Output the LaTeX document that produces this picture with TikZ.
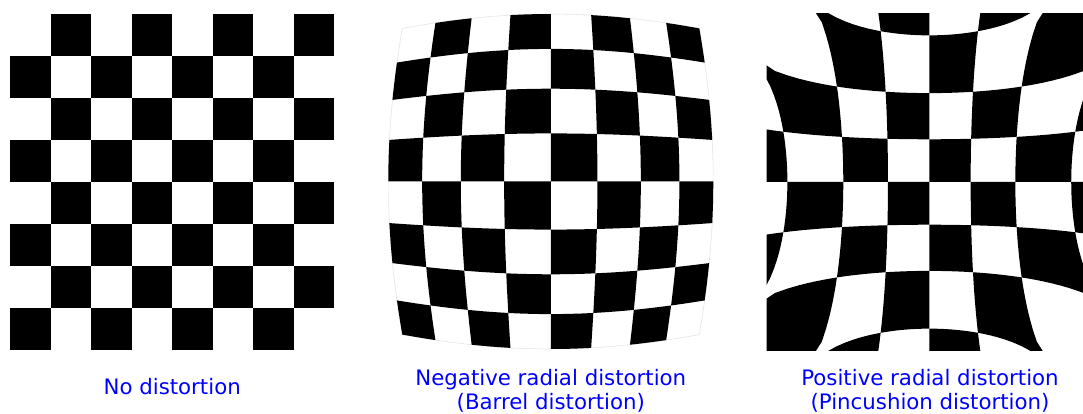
\documentclass[tikz,border=0pt]{standalone}
\usepackage{fontspec}
\setmainfont{DejaVu Sans}
% one Newton step for  s*r*(1+k r^2) = R
\newcommand\nstep{\pgfmathsetmacro\rr{\rr-(\ds*\rr*(1+\dk*\rr*\rr)-\RR)/(\ds*(1+3*\dk*\rr*\rr))}}
\newcommand\nsteps[1]{\ifnum#1>0 \nstep\expandafter\nsteps\expandafter{\the\numexpr#1-1\relax}\fi}
% map grid point (qx,qy) of the undistorted board to picture point (\X,\Y)
\newcommand\mapq[2]{%
  \pgfmathsetmacro\RR{sqrt((#1)*(#1)+(#2)*(#2))}%
  \ifdim\RR pt<0.0001pt
    \pgfmathsetmacro\fac{1/\ds}%
  \else
    \ifdim\RR pt>\dlim pt
      \pgfmathsetmacro\fac{4/\RR}%
    \else
      \pgfmathsetmacro\rr{\RR/\ds}%
      \nsteps{\nit}%
      \pgfmathsetmacro\fac{\rr/\RR}%
    \fi
  \fi
  \pgfmathsetmacro\X{\dcx+(#1)*\fac*\dhw}%
  \pgfmathsetmacro\Y{\dcy+(#2)*\fac*\dhh}%
}
\newcommand\addpt[2]{\mapq{#1}{#2}\xdef\cpath{\cpath(\X,\Y)--}}
% draw the black cells of a distorted 8x8 board with the current parameters
\newcommand\distboard{%
  \foreach \i in {0,...,7}{\foreach \j in {0,...,7}{%
    \pgfmathtruncatemacro\parity{mod(\i+\j,2)}%
    \ifnum\parity=1
      \gdef\cpath{}%
      \pgfmathsetmacro\xa{-1+0.25*\i}\pgfmathsetmacro\xb{\xa+0.25}%
      \pgfmathsetmacro\ya{-1+0.25*\j}\pgfmathsetmacro\yb{\ya+0.25}%
      \foreach \t in {0,...,7}{\pgfmathsetmacro\qq{\xa+0.03125*\t}\addpt{\qq}{\ya}}%
      \foreach \t in {0,...,7}{\pgfmathsetmacro\qq{\ya+0.03125*\t}\addpt{\xb}{\qq}}%
      \foreach \t in {0,...,7}{\pgfmathsetmacro\qq{\xb-0.03125*\t}\addpt{\qq}{\yb}}%
      \foreach \t in {0,...,7}{\pgfmathsetmacro\qq{\yb-0.03125*\t}\addpt{\xa}{\qq}}%
      \edef\tmp{\noexpand\fill[cellfill] \cpath cycle;}\tmp
    \fi}}}
\newcommand\distoutline{%
  \gdef\cpath{}%
  \foreach \t in {0,...,15}{\pgfmathsetmacro\qq{-1+0.125*\t}\addpt{\qq}{-1}}%
  \foreach \t in {0,...,15}{\pgfmathsetmacro\qq{-1+0.125*\t}\addpt{1}{\qq}}%
  \foreach \t in {0,...,15}{\pgfmathsetmacro\qq{1-0.125*\t}\addpt{\qq}{1}}%
  \foreach \t in {0,...,15}{\pgfmathsetmacro\qq{1-0.125*\t}\addpt{-1}{\qq}}%
  \edef\tmp{\noexpand\draw[faintline] \cpath cycle;}\tmp}
\tikzset{
  cellfill/.style={fill=black},
  faintline/.style={draw=black!10, line width=0.6pt},
  lab/.style={font=\fontsize{21.3}{23.6}\selectfont, text=blue, align=center, inner sep=0pt},
}
\begin{document}
\begin{tikzpicture}[x=1pt,y=-1pt]
\useasboundingbox (0,0) rectangle (1083,414);
\fill[white] (0,0) rectangle (1083,414);
% ---- board 1: no distortion
\foreach \i in {0,...,7}{\foreach \j in {0,...,7}{%
  \pgfmathtruncatemacro\parity{mod(\i+\j,2)}%
  \ifnum\parity=1
    \fill[cellfill] (10+40.54*\i,14+42*\j) rectangle ++(40.54,42);
  \fi}}
% ---- board 2: barrel
\begin{scope}
  \def\ds{0.8595}\def\dk{0.1635}\def\dlim{100}\def\nit{6}%
  \def\dcx{550.8}\def\dcy{181.5}\def\dhw{162.5}\def\dhh{167.5}%
  \clip (388.3,14) rectangle (713.3,349);
  \distoutline
  \distboard
\end{scope}
% ---- board 3: pincushion
\begin{scope}
  \def\ds{0.995}\def\dk{-0.179}\def\dlim{0.9}\def\nit{10}%
  \def\dcx{929.3}\def\dcy{182}\def\dhw{162.6}\def\dhh{168}%
  \clip (766.7,14) rectangle (1083,350);
  \distboard
\end{scope}
% ---- labels (base = baseline of the last line)
\node[lab, anchor=base] (l1) at (172.2,394) {No distortion};
\node[lab, anchor=base] (l2) at (550.8,409.3) {Negative radial distortion\\(Barrel distortion)};
\node[lab, anchor=base] (l3) at (930,409.3) {Positive radial distortion\\(Pincushion distortion)};
\end{tikzpicture}
\end{document}
